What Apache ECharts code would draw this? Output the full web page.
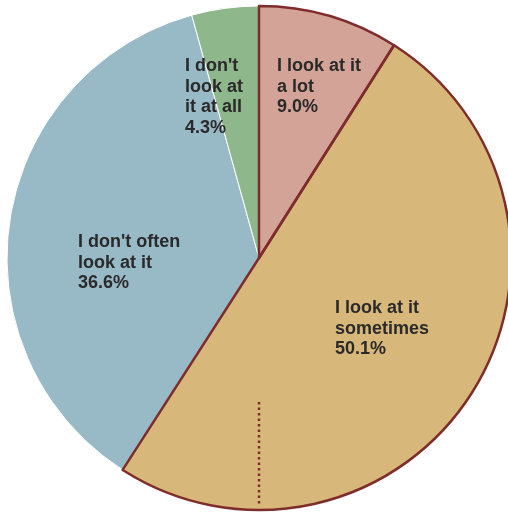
<!DOCTYPE html>
<html><head><meta charset="utf-8">
<script src="https://cdn.jsdelivr.net/npm/echarts@6/dist/echarts.min.js"></script>
<style>html,body{margin:0;padding:0;background:#fff}#c{width:508px;height:515px}</style>
</head><body><div id="c"></div>
<script>
var categories = ["I look at it\na lot", "I look at it\nsometimes", "I don't often\nlook at it", "I don't\nlook at\nit at all"];
var values = [9.0, 50.1, 36.6, 4.3];
var colors = ["#d4a397", "#d8b87a", "#98b9c6", "#8eb78b"];
var bordered = [true, true, false, false];
var labelPos = [[277, 56], [335, 298], [78, 232], [185, 56]];
var BORDER = "#7e2c2c";

var chart = echarts.init(document.getElementById('c'));
var fillData = categories.map(function(c, i){
  return {name: c, value: values[i], itemStyle: {color: colors[i], borderColor: '#fff', borderWidth: bordered[i] ? 0 : 1}};
});
var strokeData = categories.map(function(c, i){
  return {name: c, value: values[i], itemStyle: {color: 'rgba(0,0,0,0)', borderColor: bordered[i] ? BORDER : 'rgba(0,0,0,0)', borderWidth: bordered[i] ? 2.5 : 0}};
});
chart.setOption({
  animation: false,
  series: [{
    type: 'pie', center: [259, 258], radius: [0, 252], startAngle: 90, clockwise: true,
    data: fillData, silent: true,
    label: {
      show: true, position: 'inside', color: '#2a2a2a',
      fontFamily: 'Liberation Sans, Arial, sans-serif', fontSize: 18, fontWeight: 'bold', lineHeight: 20.5,
      align: 'left', verticalAlign: 'top',
      formatter: function(p){ return p.name + '\n' + p.value.toFixed(1) + '%'; }
    },
    labelLine: {show: false},
    labelLayout: function(p){ return {x: labelPos[p.dataIndex][0], y: labelPos[p.dataIndex][1], align: 'left', verticalAlign: 'top'}; }
  }, {
    type: 'pie', center: [259, 258], radius: [0, 252], startAngle: 90, clockwise: true,
    data: strokeData, silent: true, z: 3,
    label: {show: false}, labelLine: {show: false}
  }],
  graphic: [{
    type: 'line', z: 10,
    shape: {x1: 259, y1: 402, x2: 259, y2: 505},
    style: {stroke: BORDER, lineWidth: 2.5, lineDash: [2.5, 3]}
  }]
});
</script></body></html>
